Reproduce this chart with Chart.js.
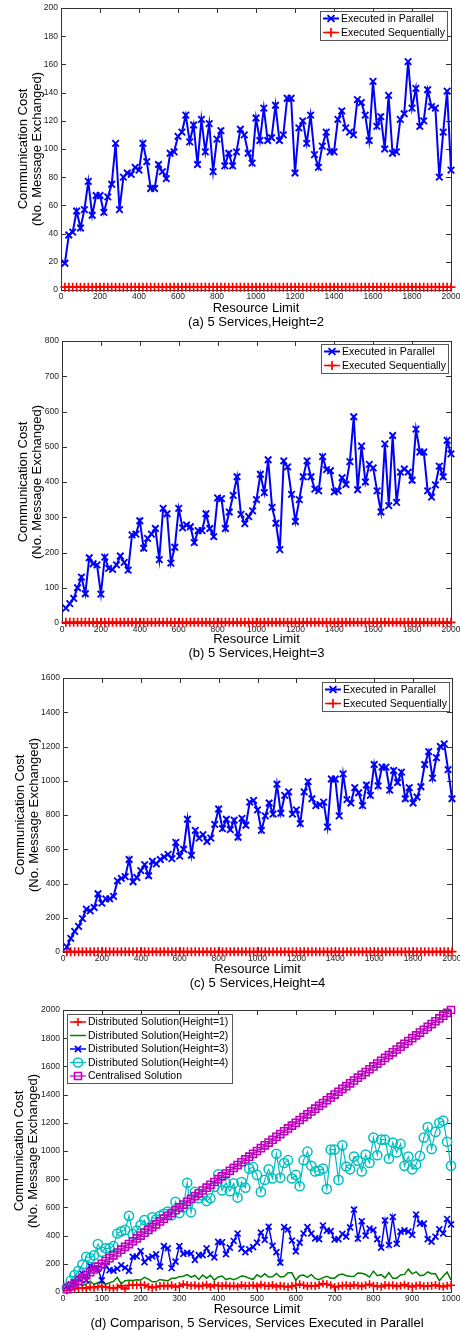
<!DOCTYPE html>
<html>
<head>
<meta charset="utf-8">
<script src="https://cdn.jsdelivr.net/npm/chart.js@4"></script>
<style>
  html, body { margin: 0; padding: 0; background: #fff; }
  #page { position: relative; width: 460px; height: 1330px; }
  canvas { position: absolute; left: 0; }
</style>
</head>
<body>
<div id="page">
  <canvas id="panelA" width="460" height="330" style="top:0px"></canvas>
  <canvas id="panelB" width="460" height="330" style="top:330px"></canvas>
  <canvas id="panelC" width="460" height="330" style="top:660px"></canvas>
  <canvas id="panelD" width="460" height="340" style="top:990px"></canvas>
</div>
<script>
// Resource limits used in panels (a), (b), (c)
const resourceLimits = [
    20, 40, 60, 80, 100, 120, 140, 160, 180, 200,
    220, 240, 260, 280, 300, 320, 340, 360, 380, 400,
    420, 440, 460, 480, 500, 520, 540, 560, 580, 600,
    620, 640, 660, 680, 700, 720, 740, 760, 780, 800,
    820, 840, 860, 880, 900, 920, 940, 960, 980, 1000,
    1020, 1040, 1060, 1080, 1100, 1120, 1140, 1160, 1180, 1200,
    1220, 1240, 1260, 1280, 1300, 1320, 1340, 1360, 1380, 1400,
    1420, 1440, 1460, 1480, 1500, 1520, 1540, 1560, 1580, 1600,
    1620, 1640, 1660, 1680, 1700, 1720, 1740, 1760, 1780, 1800,
    1820, 1840, 1860, 1880, 1900, 1920, 1940, 1960, 1980, 2000,
];

// Resource limits used in panel (d)
const resourceLimitsD = [
    10, 20, 30, 40, 50, 60, 70, 80, 90, 100,
    110, 120, 130, 140, 150, 160, 170, 180, 190, 200,
    210, 220, 230, 240, 250, 260, 270, 280, 290, 300,
    310, 320, 330, 340, 350, 360, 370, 380, 390, 400,
    410, 420, 430, 440, 450, 460, 470, 480, 490, 500,
    510, 520, 530, 540, 550, 560, 570, 580, 590, 600,
    610, 620, 630, 640, 650, 660, 670, 680, 690, 700,
    710, 720, 730, 740, 750, 760, 770, 780, 790, 800,
    810, 820, 830, 840, 850, 860, 870, 880, 890, 900,
    910, 920, 930, 940, 950, 960, 970, 980, 990, 1000,
];

// Executed in parallel, height = 2
const parallelH2 = [
    19, 39, 41, 56, 44, 57, 77, 53, 67, 67,
    55, 66, 75, 104, 57, 80, 83, 82, 87, 85,
    104, 91, 72, 72, 89, 84, 79, 97, 98, 109,
    112, 124, 105, 117, 89, 121, 98, 118, 84, 107,
    113, 88, 97, 88, 98, 114, 110, 97, 90, 122,
    106, 129, 106, 108, 131, 106, 110, 136, 136, 83,
    115, 120, 104, 124, 96, 87, 102, 112, 98, 98,
    121, 127, 115, 112, 110, 135, 133, 124, 106, 148,
    116, 123, 100, 138, 97, 98, 121, 125, 162, 129,
    143, 116, 120, 142, 130, 129, 80, 112, 141, 85,
];

// Executed in parallel, height = 3
const parallelH3 = [
    42, 55, 70, 100, 130, 83, 185, 168, 165, 82,
    187, 155, 152, 165, 190, 172, 150, 250, 252, 290,
    212, 240, 252, 268, 180, 325, 310, 170, 215, 325,
    270, 278, 273, 228, 262, 262, 310, 268, 245, 355,
    353, 268, 315, 362, 415, 308, 282, 302, 318, 350,
    422, 370, 463, 328, 283, 208, 460, 443, 365, 288,
    350, 415, 460, 415, 380, 375, 472, 435, 432, 372,
    375, 412, 393, 458, 585, 378, 502, 400, 450, 440,
    375, 315, 508, 333, 532, 342, 428, 437, 428, 405,
    550, 485, 485, 375, 357, 392, 445, 415, 518, 480,
];

// Executed in parallel, height = 4
const parallelH4 = [
    30, 80, 120, 150, 195, 250, 240, 260, 340, 285,
    310, 310, 325, 415, 430, 440, 540, 410, 435, 475,
    510, 445, 530, 515, 540, 555, 570, 545, 640, 560,
    600, 775, 565, 710, 665, 685, 645, 665, 745, 835,
    720, 775, 715, 770, 670, 780, 740, 875, 885, 830,
    710, 795, 870, 805, 980, 810, 915, 935, 805, 830,
    750, 935, 995, 895, 855, 860, 875, 730, 1010, 1010,
    795, 1040, 890, 870, 960, 930, 855, 975, 915, 1095,
    970, 1080, 1080, 945, 1060, 990, 1050, 895, 960, 870,
    905, 965, 1095, 1170, 1015, 1135, 1200, 1215, 1065, 895,
];

// Executed sequentially (flat at the bottom of panels a-c)
const sequential = [
    2, 2, 2, 2, 2, 2, 2, 2, 2, 2,
    2, 2, 2, 2, 2, 2, 2, 2, 2, 2,
    2, 2, 2, 2, 2, 2, 2, 2, 2, 2,
    2, 2, 2, 2, 2, 2, 2, 2, 2, 2,
    2, 2, 2, 2, 2, 2, 2, 2, 2, 2,
    2, 2, 2, 2, 2, 2, 2, 2, 2, 2,
    2, 2, 2, 2, 2, 2, 2, 2, 2, 2,
    2, 2, 2, 2, 2, 2, 2, 2, 2, 2,
    2, 2, 2, 2, 2, 2, 2, 2, 2, 2,
    2, 2, 2, 2, 2, 2, 2, 2, 2, 2,
];

// Panel (d): distributed solution, height = 1
const distributedH1 = [
    12, 18, 22, 28, 30, 25, 35, 30, 38, 40,
    35, 30, 25, 32, 45, 22, 48, 50, 48, 52,
    50, 38, 30, 35, 42, 45, 40, 48, 35, 42,
    55, 50, 45, 48, 40, 45, 52, 38, 50, 45,
    42, 48, 40, 45, 38, 50, 42, 45, 48, 40,
    52, 45, 42, 50, 38, 45, 40, 35, 42, 48,
    55, 48, 40, 45, 42, 50, 60, 55, 48, 35,
    40, 45, 48, 42, 50, 45, 40, 48, 55, 45,
    42, 38, 50, 45, 48, 40, 45, 52, 42, 38,
    45, 48, 40, 42, 45, 50, 42, 38, 45, 48,
];

// Panel (d): centralised solution
const centralised = [
    20, 40, 60, 80, 100, 120, 140, 160, 180, 200,
    220, 240, 260, 280, 300, 320, 340, 360, 380, 400,
    420, 440, 460, 480, 500, 520, 540, 560, 580, 600,
    620, 640, 660, 680, 700, 720, 740, 760, 780, 800,
    820, 840, 860, 880, 900, 920, 940, 960, 980, 1000,
    1020, 1040, 1060, 1080, 1100, 1120, 1140, 1160, 1180, 1200,
    1220, 1240, 1260, 1280, 1300, 1320, 1340, 1360, 1380, 1400,
    1420, 1440, 1460, 1480, 1500, 1520, 1540, 1560, 1580, 1600,
    1620, 1640, 1660, 1680, 1700, 1720, 1740, 1760, 1780, 1800,
    1820, 1840, 1860, 1880, 1900, 1920, 1940, 1960, 1980, 2000,
];

const FONT = "'Liberation Sans', Arial, sans-serif";
const BLUE = "#0000ff";
const RED = "#ff0000";
const GREEN = "#008000";
const CYAN = "#00bfbf";
const MAGENTA = "#bf00bf";

Chart.defaults.font.family = FONT;
Chart.defaults.color = "#000";

const toPoints = (xs, ys) => xs.map((x, i) => ({ x: x, y: ys[i] }));

// marker shapes for the legend samples
function drawMarker(ctx, style, x, y, r) {
    ctx.beginPath();
    if (style === "crossRot") {
        const d = r * 0.75;
        ctx.moveTo(x - d, y - d);
        ctx.lineTo(x + d, y + d);
        ctx.moveTo(x - d, y + d);
        ctx.lineTo(x + d, y - d);
    } else if (style === "cross") {
        ctx.moveTo(x - r, y);
        ctx.lineTo(x + r, y);
        ctx.moveTo(x, y - r);
        ctx.lineTo(x, y + r);
    } else if (style === "circle") {
        ctx.arc(x, y, r, 0, Math.PI * 2);
    } else if (style === "rect") {
        const d = r * 0.7;
        ctx.rect(x - d, y - d, 2 * d, 2 * d);
    }
    ctx.stroke();
}

// MATLAB-like box around the axes with inward tick marks on all sides
const axesBox = {
    id: "axesBox",
    beforeDatasetsDraw(chart) {
        const { ctx, chartArea } = chart;
        const { left, right, top, bottom } = chartArea;
        const xs = chart.scales.x;
        const ys = chart.scales.y;
        ctx.save();
        ctx.strokeStyle = "#333";
        ctx.lineWidth = 1;
        ctx.beginPath();
        xs.ticks.forEach((t) => {
            const px = Math.round(xs.getPixelForValue(t.value)) + 0.5;
            ctx.moveTo(px, bottom);
            ctx.lineTo(px, bottom - 5);
            ctx.moveTo(px, top);
            ctx.lineTo(px, top + 5);
        });
        ys.ticks.forEach((t) => {
            const py = Math.round(ys.getPixelForValue(t.value)) + 0.5;
            ctx.moveTo(left, py);
            ctx.lineTo(left + 5, py);
            ctx.moveTo(right, py);
            ctx.lineTo(right - 5, py);
        });
        ctx.stroke();
        ctx.strokeRect(
            Math.round(left) + 0.5,
            Math.round(top) + 0.5,
            Math.round(right - left),
            Math.round(bottom - top)
        );
        ctx.restore();
    },
};

// legend drawn inside the plot area, like the original figure
const boxLegend = {
    id: "boxLegend",
    afterDraw(chart, args, opts) {
        const { ctx, chartArea } = chart;
        const x0 =
            opts.side === "left"
                ? chartArea.left + opts.dx
                : chartArea.right - opts.dx - opts.width;
        const y0 = chartArea.top + opts.dy;
        ctx.save();
        ctx.fillStyle = "#fff";
        ctx.fillRect(x0, y0, opts.width, opts.height);
        ctx.strokeStyle = "#555";
        ctx.lineWidth = 1;
        ctx.strokeRect(Math.round(x0) + 0.5, Math.round(y0) + 0.5, opts.width, opts.height);
        ctx.font = opts.fontSize + "px " + FONT;
        ctx.textBaseline = "middle";
        chart.data.datasets.forEach((ds, i) => {
            const y = y0 + opts.firstRow + i * opts.rowGap;
            const sx = x0 + 3;
            ctx.strokeStyle = ds.borderColor;
            ctx.lineWidth = ds.borderWidth;
            ctx.beginPath();
            ctx.moveTo(sx, y);
            ctx.lineTo(sx + opts.sample, y);
            ctx.stroke();
            ctx.lineWidth = ds.pointBorderWidth || 1;
            if (ds.pointRadius > 0) {
                drawMarker(ctx, ds.pointStyle, sx + opts.sample / 2, y, ds.pointRadius);
            }
            ctx.fillStyle = "#000";
            ctx.fillText(ds.label, sx + opts.sample + 2, y + 0.5);
        });
        ctx.restore();
    },
};

const plainNumber = (value) => String(value);

function makePanel(canvasId, cfg) {
    new Chart(document.getElementById(canvasId), {
        type: "line",
        data: { datasets: cfg.datasets },
        plugins: [axesBox, boxLegend],
        options: {
            responsive: false,
            animation: false,
            clip: false,
            layout: {
                padding: { top: cfg.top, right: cfg.right, bottom: 0, left: 0 },
            },
            elements: {
                line: { tension: 0 },
            },
            scales: {
                x: {
                    type: "linear",
                    min: 0,
                    max: cfg.xMax,
                    grid: { display: false, drawTicks: false },
                    border: { display: false },
                    ticks: {
                        stepSize: cfg.xStep,
                        maxRotation: 0,
                        autoSkip: false,
                        padding: 2,
                        color: "#222",
                        font: { size: 8.5 },
                        callback: plainNumber,
                    },
                    title: {
                        display: true,
                        text: ["Resource Limit", cfg.caption],
                        font: { size: 13, lineHeight: "14px" },
                        padding: { top: 0, bottom: cfg.captionPad },
                    },
                    afterFit(scale) {
                        scale.height = cfg.xHeight;
                        scale.paddingLeft = 0;
                        scale.paddingRight = 0;
                    },
                },
                y: {
                    type: "linear",
                    min: 0,
                    max: cfg.yMax,
                    grid: { display: false, drawTicks: false },
                    border: { display: false },
                    ticks: {
                        stepSize: cfg.yStep,
                        padding: 3,
                        color: "#222",
                        font: { size: 8.5 },
                        callback: plainNumber,
                    },
                    title: {
                        display: true,
                        text: ["Communication Cost", "(No. Message Exchanged)"],
                        font: { size: 13, lineHeight: "14px" },
                        padding: { top: cfg.yTitlePad, bottom: 0 },
                    },
                    afterFit(scale) {
                        scale.width = cfg.yWidth;
                        scale.paddingTop = 0;
                        scale.paddingBottom = 0;
                    },
                },
            },
            plugins: {
                legend: { display: false },
                tooltip: { enabled: false },
                boxLegend: cfg.legend,
            },
        },
    });
}

function parallelSet(values) {
    return {
        label: "Executed in Parallel",
        data: toPoints(resourceLimits, values),
        borderColor: BLUE,
        backgroundColor: BLUE,
        borderWidth: 2,
        pointStyle: "crossRot",
        pointRadius: 4.6,
        pointBorderWidth: 1.9,
        pointBorderColor: BLUE,
    };
}

function sequentialSet() {
    return {
        label: "Executed Sequentially",
        data: toPoints(resourceLimits, sequential),
        borderColor: RED,
        backgroundColor: RED,
        borderWidth: 1.5,
        pointStyle: "cross",
        pointRadius: 4.5,
        pointBorderWidth: 1.7,
        pointBorderColor: RED,
    };
}

const legendRight = (dx, dy) => ({
    side: "right", dx: dx, dy: dy, width: 127, height: 29,
    firstRow: 7.5, rowGap: 14, sample: 16, fontSize: 10.5,
});

makePanel("panelA", {
    top: 8, right: 9, xHeight: 40, yWidth: 61, yTitlePad: 16, captionPad: 1,
    xMax: 2000, xStep: 200, yMax: 200, yStep: 20,
    caption: "(a) 5 Services,Height=2",
    legend: legendRight(4, 3),
    datasets: [parallelSet(parallelH2), sequentialSet()],
});

makePanel("panelB", {
    top: 11, right: 9, xHeight: 37, yWidth: 62, yTitlePad: 16, captionPad: 0,
    xMax: 2000, xStep: 200, yMax: 800, yStep: 100,
    caption: "(b) 5 Services,Height=3",
    legend: legendRight(3, 3),
    datasets: [parallelSet(parallelH3), sequentialSet()],
});

makePanel("panelC", {
    top: 18, right: 8, xHeight: 38, yWidth: 63, yTitlePad: 13, captionPad: 0,
    xMax: 2000, xStep: 200, yMax: 1600, yStep: 200,
    caption: "(c) 5 Services,Height=4",
    legend: legendRight(3, 4),
    datasets: [parallelSet(parallelH4), sequentialSet()],
});

makePanel("panelD", {
    top: 20, right: 9, xHeight: 38, yWidth: 63, yTitlePad: 12, captionPad: 0,
    xMax: 1000, xStep: 100, yMax: 2000, yStep: 200,
    caption: "(d) Comparison, 5 Services, Services Executed in Parallel",
    legend: {
        side: "left", dx: 4, dy: 4, width: 165, height: 69,
        firstRow: 8, rowGap: 13.5, sample: 16, fontSize: 10.5,
    },
    datasets: [
        {
            label: "Distributed Solution(Height=1)",
            data: toPoints(resourceLimitsD, distributedH1),
            borderColor: RED,
            borderWidth: 1.5,
            pointStyle: "cross",
            pointRadius: 4,
            pointBorderWidth: 1.6,
            pointBorderColor: RED,
            order: 4,
        },
        {
            label: "Distributed Solution(Height=2)",
            data: toPoints(resourceLimitsD, parallelH2),
            borderColor: GREEN,
            borderWidth: 1.5,
            pointStyle: "circle",
            pointRadius: 0,
            order: 3,
        },
        {
            label: "Distributed Solution(Height=3)",
            data: toPoints(resourceLimitsD, parallelH3),
            borderColor: BLUE,
            borderWidth: 1.5,
            pointStyle: "crossRot",
            pointRadius: 4.2,
            pointBorderWidth: 1.7,
            pointBorderColor: BLUE,
            order: 2,
        },
        {
            label: "Distributed Solution(Height=4)",
            data: toPoints(resourceLimitsD, parallelH4),
            borderColor: CYAN,
            borderWidth: 1.2,
            pointStyle: "circle",
            pointRadius: 4.6,
            pointBorderWidth: 1.5,
            pointBorderColor: CYAN,
            pointBackgroundColor: "rgba(0,0,0,0)",
            order: 1,
        },
        {
            label: "Centralised Solution",
            data: toPoints(resourceLimitsD, centralised),
            borderColor: MAGENTA,
            borderWidth: 1.2,
            pointStyle: "rect",
            pointRadius: 5,
            pointBorderWidth: 1.6,
            pointBorderColor: MAGENTA,
            pointBackgroundColor: "rgba(0,0,0,0)",
            order: 0,
        },
    ],
});
</script>
</body>
</html>
